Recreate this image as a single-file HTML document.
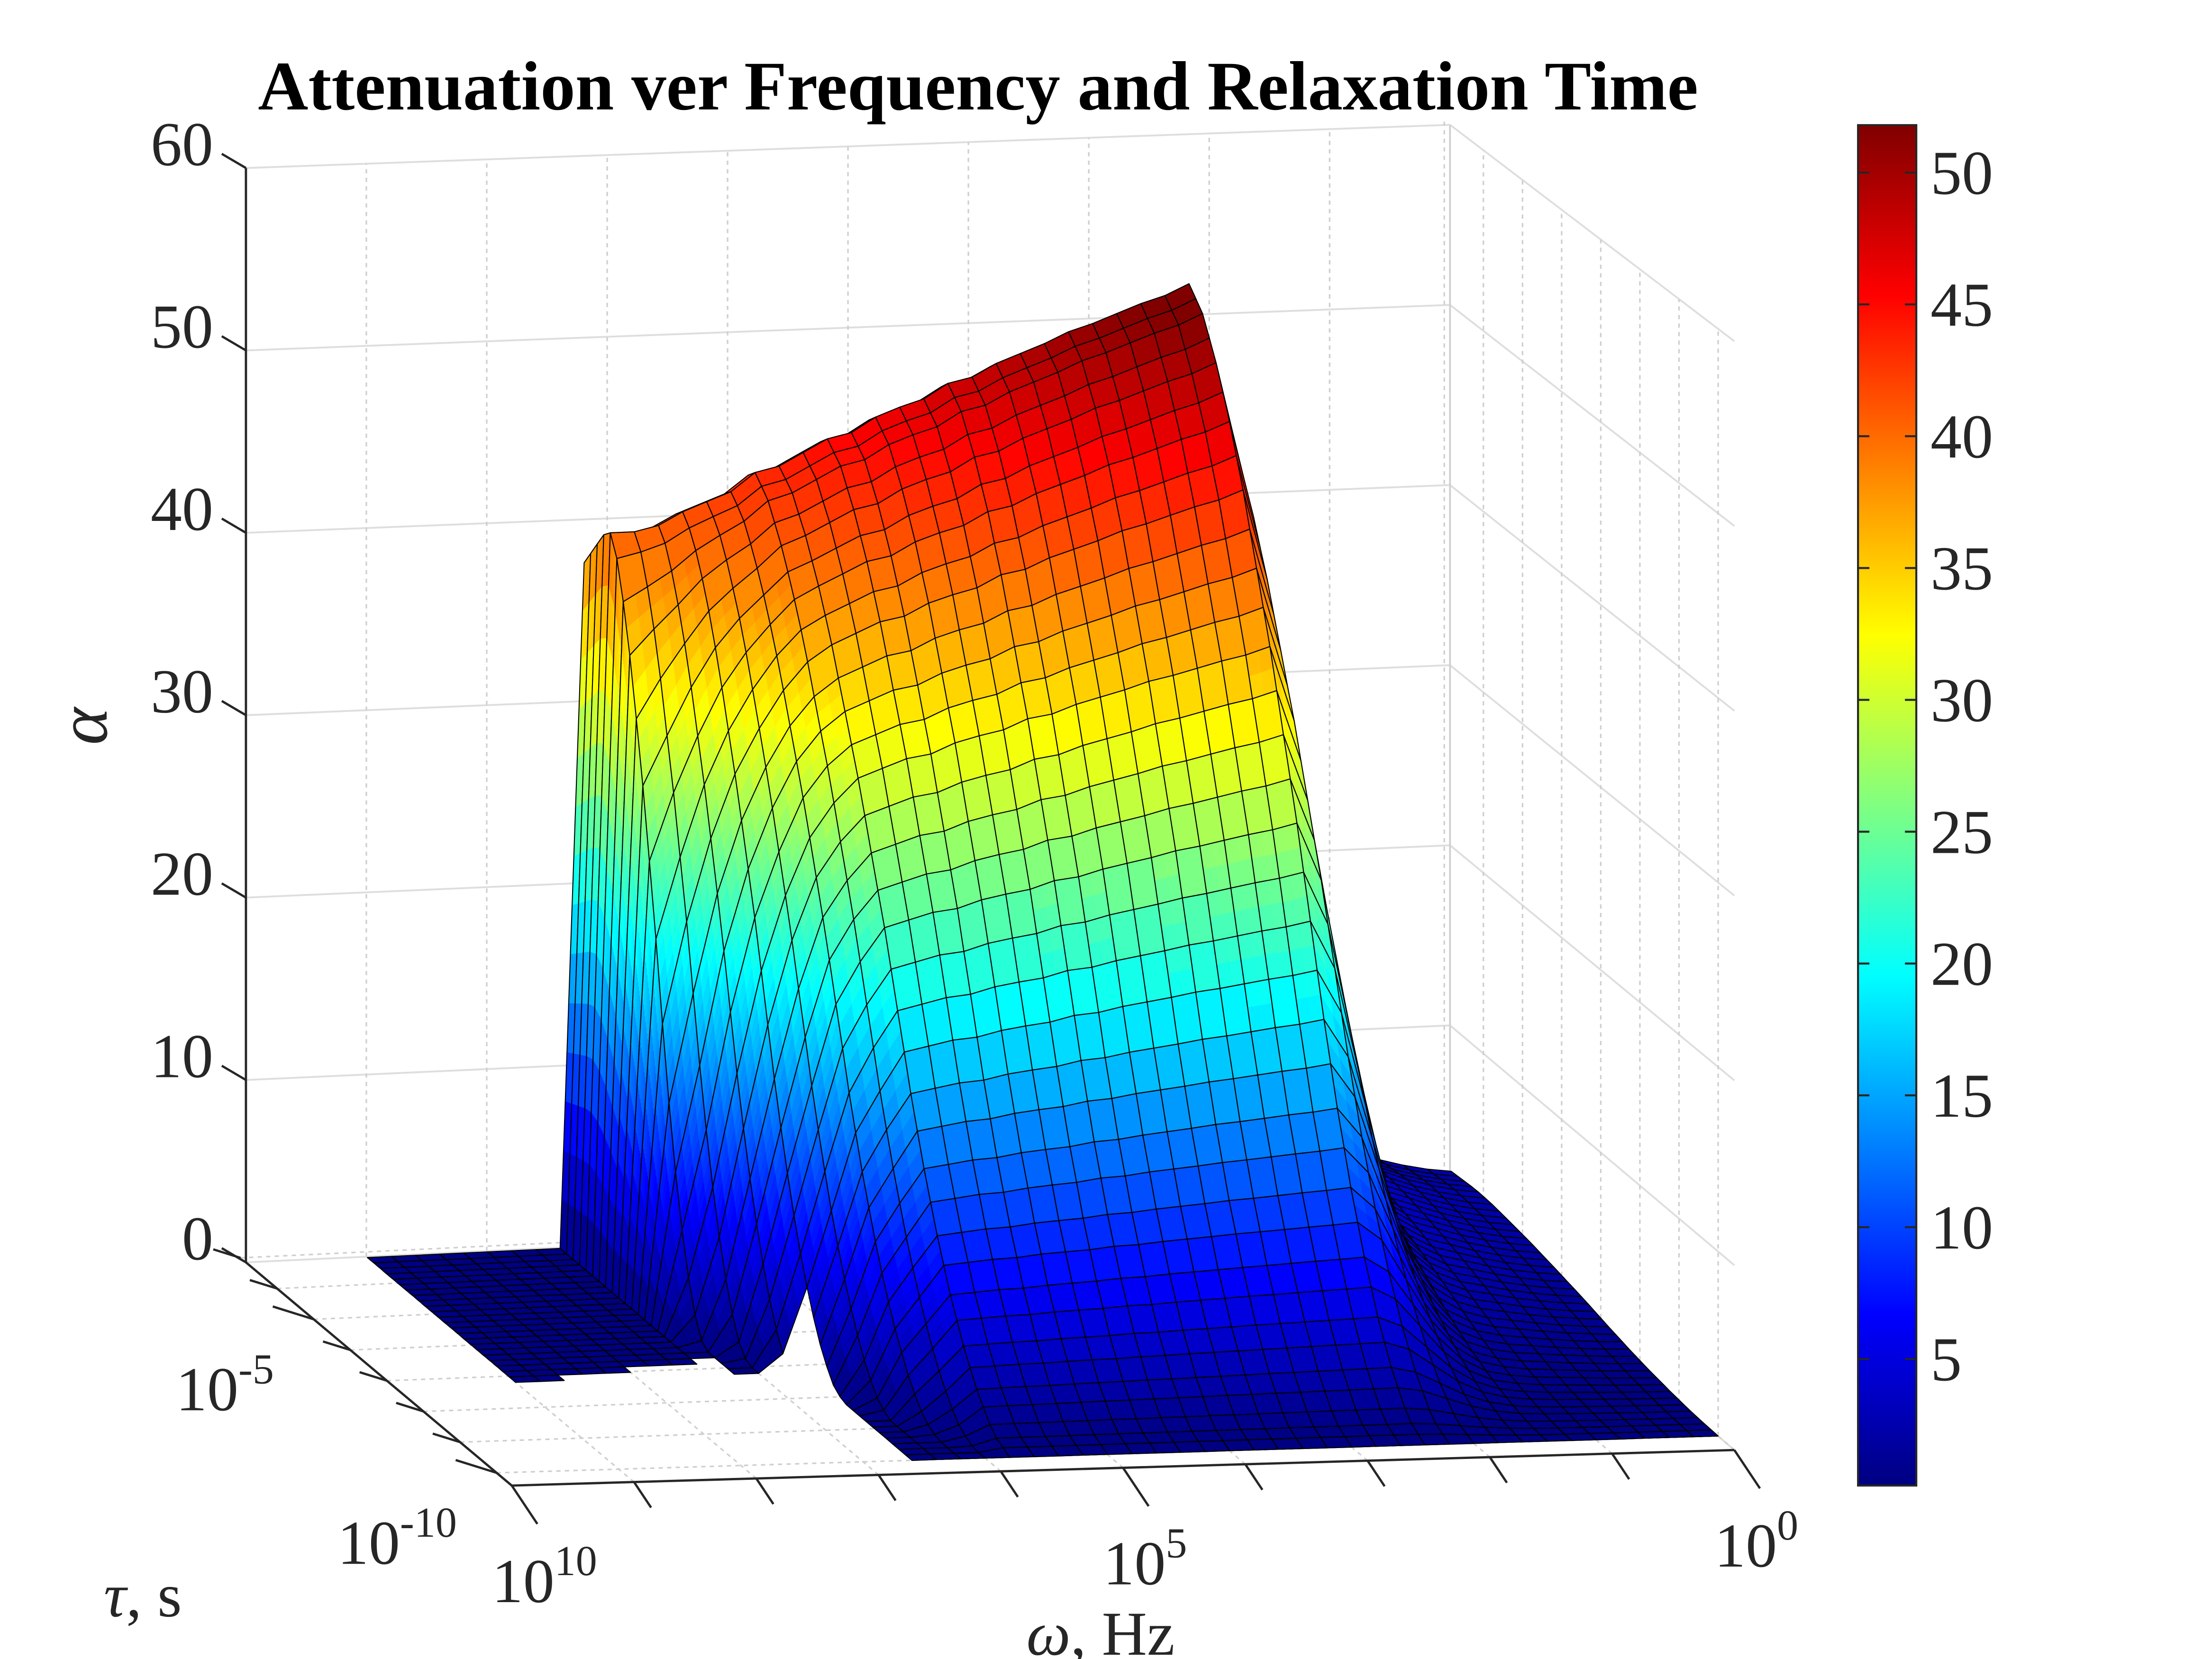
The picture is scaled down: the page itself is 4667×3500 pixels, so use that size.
<!DOCTYPE html>
<html><head><meta charset="utf-8"><style>
html,body{margin:0;padding:0;background:#fff;}
svg{display:block;}
text{font-family:"Liberation Serif",serif;fill:#262626;}
</style></head>
<body>
<svg id="chart" width="4667" height="3500" viewBox="0 0 1556 1167" preserveAspectRatio="none" xmlns="http://www.w3.org/2000/svg">
<rect width="1556" height="1167" fill="#fff"/>
<text x="688" y="77" font-size="49" font-weight="bold" text-anchor="middle" style="fill:#000">Attenuation ver Frequency and Relaxation Time</text>
<g id="grid"></g>
<g id="surf"></g>
<g id="axes"></g>
<defs><linearGradient id="jetgrad" x1="0" y1="1" x2="0" y2="0"></linearGradient></defs>
<g id="cbar"></g>
<text x="0" y="0" font-size="50" font-style="italic" transform="translate(75,524) rotate(-90)">α</text>
<text x="73" y="1137" font-size="44"><tspan font-style="italic">τ</tspan>, s</text>
<text x="722" y="1164" font-size="44"><tspan font-style="italic">ω</tspan>, Hz</text>
</svg>
<script>
// ---- data ----
const omegaExp = [9.0,8.8,8.6,8.4,8.2,8.0,7.8,7.6,7.4,7.2,7.0,6.8,6.6,6.4,6.2,6.0,5.8,5.6,5.4,5.2,5.0,4.8,4.6,4.4,4.2,4.0,3.8,3.6,3.4,3.2,3.0,2.8,2.6,2.4,2.2,2.0,1.8,1.6,1.4,1.2,1.0,0.8,0.6,0.4,0.2,0.0];
const colPeak = [0,0,0,0,0,0,0,0,0,40.5,40.5,40.8,41.5,42,42.5,43.5,43.8,44.5,45.2,45.5,46.3,46.8,47.2,48,48.3,49,49.5,50,50.6,51,51.5,52,52.4,53,47,34,21,12,7,5,4,3.5,3,2.6,2.3,2.1];
const colWidth = [1,1,1,1,1,1,1,1,1,0.42,0.5,0.6,0.7,0.8,0.9,0.95,1,1,1,1,1,1,1,1,1,1,1,1,1,1,1,1,1,1,1,1,1,1,1,1,1,1,1,1,1,1];
const tauExp = [-10,-9.825,-9.65,-9.475,-9.3,-9.125,-8.95,-8.775,-8.6,-8.425,-8.25,-8.075,-7.9,-7.725,-7.55,-7.375,-7.2,-7.025,-6.85,-6.675,-6.5,-6.325,-6.15,-5.975,-5.8,-5.625,-5.45,-5.275,-5.1,-4.925,-4.75,-4.575,-4.4,-4.225,-4.05,-3.875,-3.7,-3.525,-3.35,-3.175];
const tauProfile = [0,0.005,0.01,0.02,0.035,0.05,0.07,0.09,0.115,0.14,0.17,0.2,0.235,0.27,0.31,0.35,0.395,0.44,0.485,0.53,0.57,0.61,0.65,0.69,0.725,0.76,0.795,0.83,0.86,0.89,0.915,0.94,0.96,0.98,0.99,1.0,0.99,0.97,0.95,0.93];
const zTicks = [0,10,20,30,40,50,60];
const omegaTickExp = [10,9,8,7,6,5,4,3,2,1,0];
const omegaLabelExp = [10,5,0];
const tauTickExp = [-10,-9,-8,-7,-6,-5,-4,-3];
const tauLabelExp = [-10,-5];
const cbarTicks = [5,10,15,20,25,30,35,40,45,50];
const cMin = 0.2, cMax = 51.8;

// ---- axis functions ----
const NS = "http://www.w3.org/2000/svg";
function uOf(e){ return (10 - e) / 10; }
function vOf(e){ return 0.057 + (e + 10) * 0.1376; }
function P(u, v, z){
  const fx = 360 + 860*u, fy = 1045 - 25*u;
  const bx = 173 + 847*u, by = 888 - 40*u;
  const k = 12.83 + u*(0.17 - 0.33*v);
  return [fx + v*(bx - fx), fy + v*(by - fy) - k*z];
}
function jet(t){
  t = Math.max(0, Math.min(1, t));
  const c = x => Math.round(255*Math.max(0, Math.min(1, x)));
  return `rgb(${c(1.5-Math.abs(4*t-3))},${c(1.5-Math.abs(4*t-2))},${c(1.5-Math.abs(4*t-1))})`;
}
function mk(tag, attrs, parent){
  const el = document.createElementNS(NS, tag);
  for (const a in attrs) el.setAttribute(a, attrs[a]);
  parent.appendChild(el); return el;
}
function line(p, q, stroke, w, dash, parent, name){
  const el = mk('line', {x1:p[0], y1:p[1], x2:q[0], y2:q[1], stroke:stroke, 'stroke-width':w}, parent);
  if (dash) el.setAttribute('stroke-dasharray', dash);
  
  
  return el;
}
function pow10(parent, x, y, exp, anchorRight, name){
  const t = mk('text', {x:x, y:y, 'font-size':44}, parent);
  
  
  const a = document.createElementNS(NS, 'tspan'); a.textContent = '10'; t.appendChild(a);
  const b = document.createElementNS(NS, 'tspan'); b.setAttribute('dy', -19); b.setAttribute('font-size', 30); b.textContent = String(exp); t.appendChild(b);
  if (anchorRight) t.setAttribute('text-anchor', 'end');
  return t;
}

// ---- grid ----
const grid = document.getElementById('grid');
const gcol = '#dedede';
zTicks.forEach(z => {
  line(P(0,1,z), P(1,1,z), gcol, 1.3, null, grid, 'back-wall-gridline');
  line(P(1,1,z), P(1,0,z), gcol, 1.3, null, grid, 'side-wall-gridline');
});
omegaTickExp.forEach(e => {
  const u = uOf(e);
  line(P(u,1,0), P(u,1,60), '#cfcfcf', 1.1, '3,3', grid, 'back-wall-vertical-gridline');
  line(P(u,0,0), P(u,1,0), '#cfcfcf', 1.1, '3,3', grid, 'floor-gridline');
});
tauTickExp.forEach(e => {
  const v = vOf(e);
  line(P(1,v,0), P(1,v,60), '#cfcfcf', 1.1, '3,3', grid, 'side-wall-vertical-gridline');
  line(P(0,v,0), P(1,v,0), '#cfcfcf', 1.1, '3,3', grid, 'floor-gridline');
});
line(P(1,1,0), P(1,1,60), '#d0d0d0', 1.3, null, grid, 'back-right-edge');

// ---- surface ----
const surf = document.getElementById('surf');
const uArr = omegaExp.map(uOf), vArr = tauExp.map(vOf);
const vPeak = vArr[tauProfile.indexOf(Math.max(...tauProfile))];
function profAt(vp){
  const dv = vArr[1] - vArr[0];
  let x = (vp - vArr[0]) / dv;
  if (x <= 0) return tauProfile[0];
  if (x >= tauProfile.length - 1) return tauProfile[tauProfile.length - 1];
  const i = Math.floor(x), f = x - i;
  return tauProfile[i]*(1-f) + tauProfile[i+1]*f;
}
const Z = vArr.map((v, i) => colPeak.map((c, j) => {
  if (v >= vPeak || colWidth[j] === 1) return c * tauProfile[i];
  return c * profAt(vPeak - (vPeak - v) / colWidth[j]);
}));
function cutV(u){
  if (u < 0.275) return 0.44 + (u - 0.117) * 0.4;
  if (u < 0.335) return 0.44;
  return -1;
}
const quads = [];
for (let i = 0; i < vArr.length - 1; i++){
  for (let j = 0; j < uArr.length - 1; j++){
    if (vArr[i] < cutV(uArr[j])) continue;
    const c = P((uArr[j]+uArr[j+1])/2, (vArr[i]+vArr[i+1])/2, 0);
    quads.push({u0:uArr[j], u1:uArr[j+1], v0:vArr[i], v1:vArr[i+1],
      z00:Z[i][j], z10:Z[i][j+1], z11:Z[i+1][j+1], z01:Z[i+1][j], d:c[1]});
  }
}
quads.sort((a,b) => a.d - b.d);
function fmt(pts){ return pts.map(p => p[0].toFixed(1)+','+p[1].toFixed(1)).join(' '); }
quads.forEach(q => {
  const g = mk('g', {}, surf);
  
  
  const zs = [q.z00,q.z10,q.z11,q.z01];
  const range = Math.max(...zs) - Math.min(...zs);
  const n = Math.max(1, Math.min(14, Math.ceil(range / 2.5)));
  const B = (s,t) => {
    const u = q.u0 + (q.u1-q.u0)*s, v = q.v0 + (q.v1-q.v0)*t;
    const z = q.z00*(1-s)*(1-t) + q.z10*s*(1-t) + q.z11*s*t + q.z01*(1-s)*t;
    return [u,v,z];
  };
  const subs = [];
  for (let a = 0; a < n; a++) for (let b = 0; b < n; b++){
    const c = [B(a/n,b/n), B((a+1)/n,b/n), B((a+1)/n,(b+1)/n), B(a/n,(b+1)/n)];
    const zm = (c[0][2]+c[1][2]+c[2][2]+c[3][2])/4;
    subs.push({pts:c.map(x => P(x[0],x[1],x[2])), zm, d:P((c[0][0]+c[2][0])/2,(c[0][1]+c[2][1])/2,0)[1]});
  }
  subs.sort((x,y) => x.d - y.d);
  subs.forEach(s => {
    const col = jet((s.zm - cMin)/(cMax - cMin));
    mk('polygon', {points:fmt(s.pts), fill:col, stroke:col, 'stroke-width':0.5, 'stroke-linejoin':'round'}, g);
  });
  const outline = [P(q.u0,q.v0,q.z00), P(q.u1,q.v0,q.z10), P(q.u1,q.v1,q.z11), P(q.u0,q.v1,q.z01)];
  mk('polygon', {points:fmt(outline), fill:'none', stroke:'#000', 'stroke-width':0.7, 'stroke-linejoin':'round'}, g);
});

// ---- axes ----
const ax = document.getElementById('axes');
line(P(0,1,0), P(0,1,60), '#262626', 1.6, null, ax, 'z-axis-line');
line(P(0,0,0), P(0,1,0), '#262626', 1.6, null, ax, 'tau-axis-line');
line(P(0,0,0), P(1,0,0), '#262626', 1.6, null, ax, 'omega-axis-line');
zTicks.forEach(z => {
  const p = P(0,1,z);
  line(p, [p[0]-17, p[1]-10], '#262626', 1.6, null, ax, 'z-tick');
  const t = mk('text', {x:p[0]-23, y:p[1]-2, 'font-size':44, 'text-anchor':'end'}, ax);
  
  
  t.textContent = String(z);
});
omegaTickExp.forEach(e => {
  const p = P(uOf(e),0,0);
  const len = (e % 5 === 0) ? 1.8 : 1.2;
  line(p, [p[0]+10*len, p[1]+15*len], '#262626', 1.6, null, ax, 'omega-tick');
});
omegaLabelExp.forEach(e => {
  const p = P(uOf(e),0,0);
  pow10(ax, p[0]-14, p[1]+82, e, false, 'omega-tick-label');
});
tauTickExp.forEach(e => {
  const p = P(0,vOf(e),0);
  const len = (e % 5 === 0) ? 1.8 : 1.2;
  line(p, [p[0]-16*len, p[1]-5*len], '#262626', 1.6, null, ax, 'tau-tick');
});
tauLabelExp.forEach(e => {
  const p = P(0,vOf(e),0);
  pow10(ax, p[0]-28, p[1]+64, e, true, 'tau-tick-label');
});

// ---- colorbar ----
const grad = document.getElementById('jetgrad');
for (let s = 0; s <= 8; s++){
  mk('stop', {offset:(s/8), 'stop-color':jet(s/8)}, grad);
}
const cb = document.getElementById('cbar');
const cbX = 1307, cbW = 41, cbTop = 88, cbBot = 1045;
function cbY(val){ return cbBot - (val - cMin)/(cMax - cMin)*(cbBot - cbTop); }
const r = mk('rect', {x:cbX, y:cbTop, width:cbW, height:cbBot-cbTop, fill:'url(#jetgrad)', stroke:'#262626', 'stroke-width':1.4}, cb);


cbarTicks.forEach(val => {
  const y = cbY(val);
  line([cbX+cbW-8, y], [cbX+cbW, y], '#262626', 1.4, null, cb, 'colorbar-tick');
  line([cbX, y], [cbX+8, y], '#262626', 1.4, null, cb, 'colorbar-tick');
  const t = mk('text', {x:cbX+cbW+10, y:y+15, 'font-size':44}, cb);
  
  
  t.textContent = String(val);
});
</script>
</body></html>
